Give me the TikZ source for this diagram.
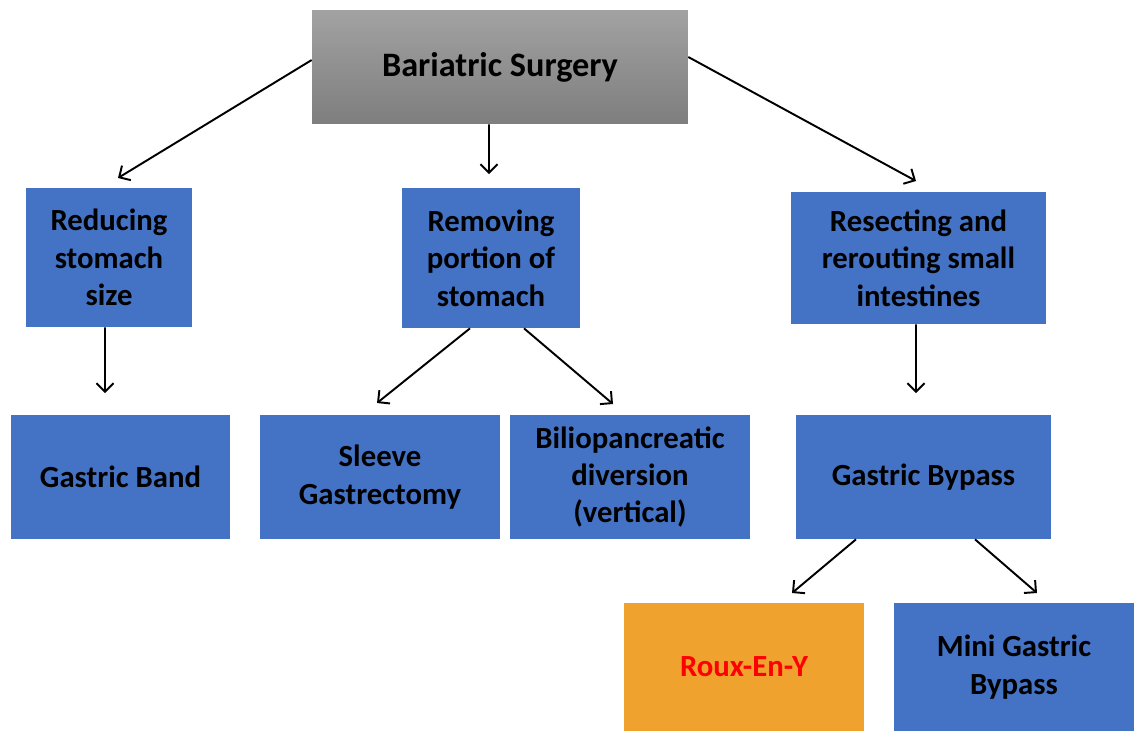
\documentclass[tikz,border=0pt]{standalone}
\usepackage{fontspec}
\setmainfont{Carlito}
\usetikzlibrary{arrows.meta}
\definecolor{boxblue}{HTML}{4472C4}
\definecolor{boxorange}{HTML}{F0A22F}
\definecolor{toptop}{HTML}{A2A2A2}
\definecolor{topbottom}{HTML}{7E7E7E}
\tikzset{
  leaf/.style={fill=boxblue, draw=none, align=center, inner sep=0pt,
    font=\fontsize{17.5}{21.3}\selectfont\bfseries},
  arr/.style={line width=1.1pt, -{Straight Barb[length=1.7mm,width=3.4mm,line width=1.1pt]}}
}
\begin{document}
\begin{tikzpicture}[x=0.02cm, y=-0.02cm]
\useasboundingbox (0,0) rectangle (1140,731);
\node[top color=toptop, bottom color=topbottom, minimum width=7.52cm, minimum height=2.28cm,
  font=\fontsize{19.5}{23}\selectfont\bfseries] (surgery) at (500,67) {Bariatric Surgery};
\node[leaf, minimum width=3.32cm, minimum height=2.78cm] (reduce) at (109,257.5) {Reducing\\stomach\\size};
\node[leaf, minimum width=3.56cm, minimum height=2.8cm] (remove) at (491,258) {Removing\\portion of\\stomach};
\node[leaf, minimum width=5.1cm, minimum height=2.64cm] (resect) at (918.5,258) {Resecting and\\rerouting small\\intestines};
\node[leaf, minimum width=4.38cm, minimum height=2.48cm] (band) at (120.5,477) {Gastric Band};
\node[leaf, minimum width=4.8cm, minimum height=2.48cm] (sleeve) at (380,477) {Sleeve\\Gastrectomy};
\node[leaf, minimum width=4.8cm, minimum height=2.48cm] (bilio) at (630,477) {Biliopancreatic\\diversion\\(vertical)};
\node[leaf, minimum width=5.1cm, minimum height=2.48cm] (bypass) at (923.5,477) {Gastric Bypass};
\node[leaf, fill=boxorange, text=red, minimum width=4.8cm, minimum height=2.56cm] (roux) at (744,667) {Roux-En-Y};
\node[leaf, minimum width=4.8cm, minimum height=2.56cm] (mini) at (1014,667) {Mini Gastric\\Bypass};
% arrow tips
\coordinate (toreduce) at (118,178);
\coordinate (toremove) at (489,174);
\coordinate (toresect) at (916,181);
\coordinate (toband) at (105,393);
\coordinate (tosleeve) at (377,403);
\coordinate (tobilio) at (613,404);
\coordinate (tobypass) at (916,393);
\coordinate (toroux) at (792,593);
\coordinate (tomini) at (1037,593);
\draw[arr] ([yshift=0.14cm]surgery.west) -- (toreduce);
\draw[arr] ([xshift=-0.22cm]surgery.south) -- (toremove);
\draw[arr] ([yshift=0.2cm]surgery.east) -- (toresect);
\draw[arr] ([xshift=-0.08cm]reduce.south) -- (toband);
\draw[arr] ([xshift=-0.42cm]remove.south) -- (tosleeve);
\draw[arr] ([xshift=0.66cm]remove.south) -- (tobilio);
\draw[arr] ([xshift=-0.05cm]resect.south) -- (tobypass);
\draw[arr] ([xshift=-1.35cm]bypass.south) -- (toroux);
\draw[arr] ([xshift=1.03cm]bypass.south) -- (tomini);
\end{tikzpicture}
\end{document}
